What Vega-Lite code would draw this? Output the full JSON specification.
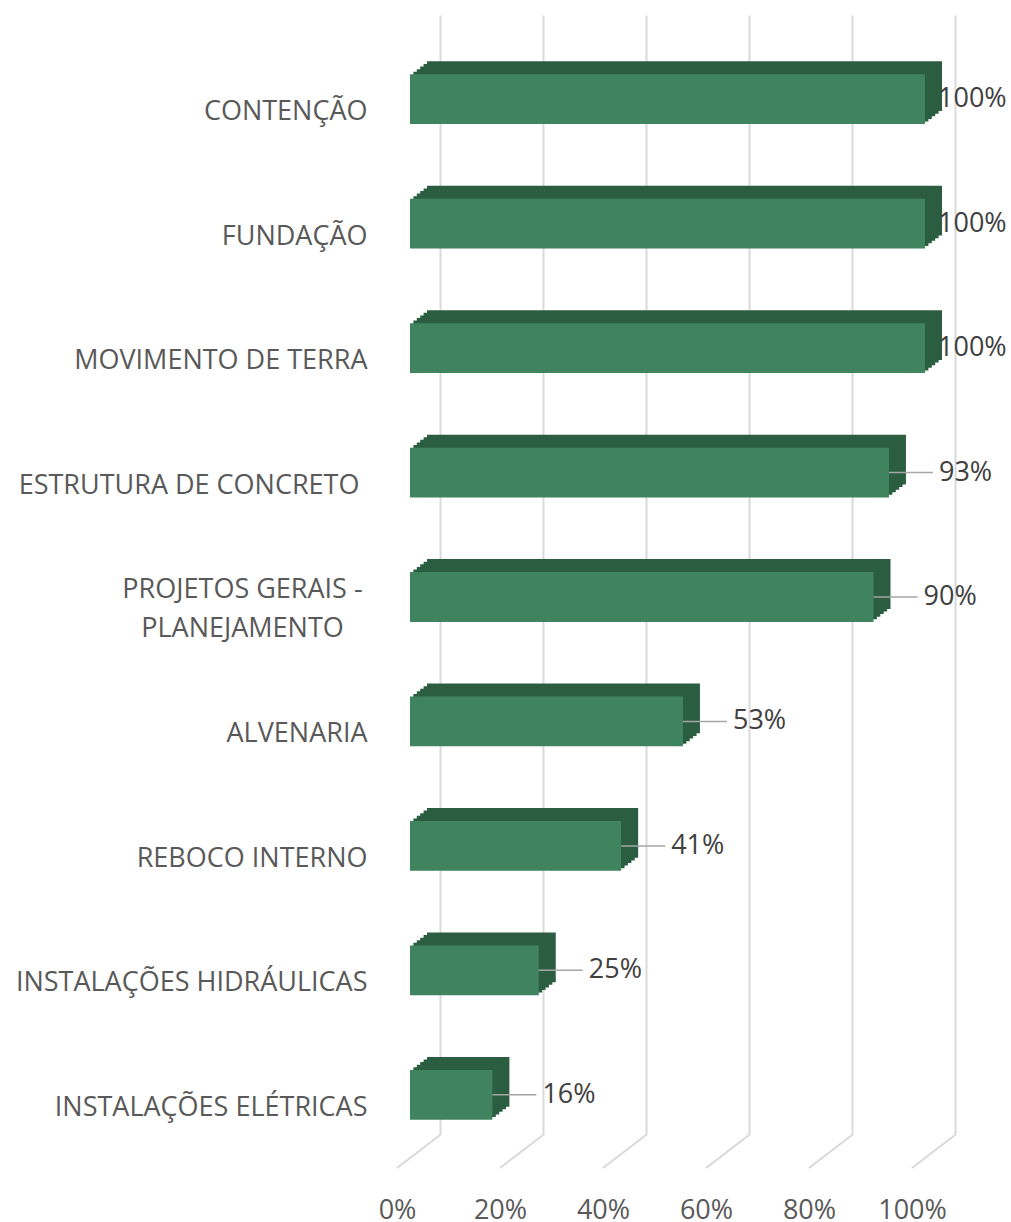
{
  "$schema": "https://vega.github.io/schema/vega-lite/v6.json",
  "width": 515,
  "height": 1120,
  "autosize": "none",
  "padding": {"left": 440, "top": 15, "right": 56, "bottom": 87},
  "background": "white",
  "config": {"view": {"stroke": null}, "font": "Open Sans"},
  "datasets": {
    "tasks": [
      {"etapa": "CONTENÇÃO", "valor": 1.0},
      {"etapa": "FUNDAÇÃO", "valor": 1.0},
      {"etapa": "MOVIMENTO DE TERRA", "valor": 1.0},
      {"etapa": "ESTRUTURA DE CONCRETO", "valor": 0.93},
      {"etapa": "PROJETOS GERAIS - PLANEJAMENTO", "valor": 0.90},
      {"etapa": "ALVENARIA", "valor": 0.53},
      {"etapa": "REBOCO INTERNO", "valor": 0.41},
      {"etapa": "INSTALAÇÕES HIDRÁULICAS", "valor": 0.25},
      {"etapa": "INSTALAÇÕES ELÉTRICAS", "valor": 0.16}
    ],
    "ticks": [{"valor": 0}, {"valor": 0.2}, {"valor": 0.4}, {"valor": 0.6}, {"valor": 0.8}, {"valor": 1.0}]
  },
  "data": {"name": "tasks"},
  "encoding": {
    "y": {
      "field": "etapa",
      "type": "nominal",
      "sort": null,
      "scale": {"paddingInner": 0.6, "paddingOuter": 0.3},
      "axis": {
        "title": null,
        "domain": false,
        "ticks": false,
        "grid": false,
        "labelFontSize": 27,
        "labelColor": "#595959",
        "labelLimit": 0,
        "labelLineHeight": 39,
        "labelBaseline": "middle",
        "labelExpr": "datum.value == 'PROJETOS GERAIS - PLANEJAMENTO' ? ['PROJETOS GERAIS -', 'PLANEJAMENTO'] : datum.label",
        "labelOffset": {"condition": {"test": "datum.value == 'PROJETOS GERAIS - PLANEJAMENTO'", "value": 15}, "value": 35},
        "labelAlign": {"condition": {"test": "datum.value == 'PROJETOS GERAIS - PLANEJAMENTO'", "value": "center"}, "value": "right"},
        "labelPadding": {"condition": [
          {"test": "datum.value == 'PROJETOS GERAIS - PLANEJAMENTO'", "value": 198},
          {"test": "datum.value == 'ESTRUTURA DE CONCRETO'", "value": 81}
        ], "value": 73}
      }
    },
    "x": {
      "field": "valor",
      "type": "quantitative",
      "scale": {"domain": [0, 1], "nice": false},
      "axis": {
        "title": null,
        "values": [0, 0.2, 0.4, 0.6, 0.8, 1],
        "format": ".0%",
        "grid": true,
        "gridColor": "#D9D9D9",
        "gridWidth": 2,
        "domain": false,
        "ticks": false,
        "labelFlush": false,
        "labelOverlap": false,
        "labelOffset": -43,
        "labelPadding": 75,
        "labelBaseline": "middle",
        "labelFontSize": 27,
        "labelColor": "#595959"
      }
    }
  },
  "layer": [
    {
      "data": {"name": "ticks"},
      "mark": {"type": "rule", "color": "#D9D9D9", "strokeWidth": 2, "x2Offset": -43, "y2Offset": 33},
      "encoding": {
        "x2": {"field": "valor"},
        "y": {"value": "height"},
        "y2": {"value": "height"}
      }
    },
    {"mark": {"type": "bar", "color": "#2B5E40", "xOffset": -26.6, "x2Offset": -26.6, "yOffset": 19.4, "y2Offset": 19.4}},
    {"mark": {"type": "bar", "color": "#2B5E40", "xOffset": -23.2, "x2Offset": -23.2, "yOffset": 16.8, "y2Offset": 16.8}},
    {"mark": {"type": "bar", "color": "#2B5E40", "xOffset": -19.8, "x2Offset": -19.8, "yOffset": 14.2, "y2Offset": 14.2}},
    {"mark": {"type": "bar", "color": "#2B5E40", "xOffset": -16.4, "x2Offset": -16.4, "yOffset": 11.6, "y2Offset": 11.6}},
    {"mark": {"type": "bar", "color": "#2B5E40", "xOffset": -13, "x2Offset": -13, "yOffset": 9, "y2Offset": 9}},
    {"mark": {"type": "bar", "color": "#3F835F", "xOffset": -30, "x2Offset": -30, "yOffset": 22, "y2Offset": 22}},
    {
      "transform": [{"filter": "datum.valor < 1"}],
      "mark": {"type": "rule", "color": "#A6A6A6", "strokeWidth": 1.5, "xOffset": -30, "x2Offset": 14, "yOffset": 22},
      "encoding": {"x2": {"field": "valor"}}
    },
    {
      "transform": [{"filter": "datum.valor < 1"}],
      "mark": {"type": "text", "align": "left", "baseline": "middle", "dx": 20, "dy": 22, "fontSize": 27, "color": "#404040"},
      "encoding": {"text": {"field": "valor", "type": "quantitative", "format": ".0%"}}
    },
    {
      "transform": [{"filter": "datum.valor >= 1"}],
      "mark": {"type": "text", "align": "left", "baseline": "middle", "dx": -17, "dy": 22, "fontSize": 27, "color": "#404040"},
      "encoding": {"text": {"field": "valor", "type": "quantitative", "format": ".0%"}}
    }
  ]
}
